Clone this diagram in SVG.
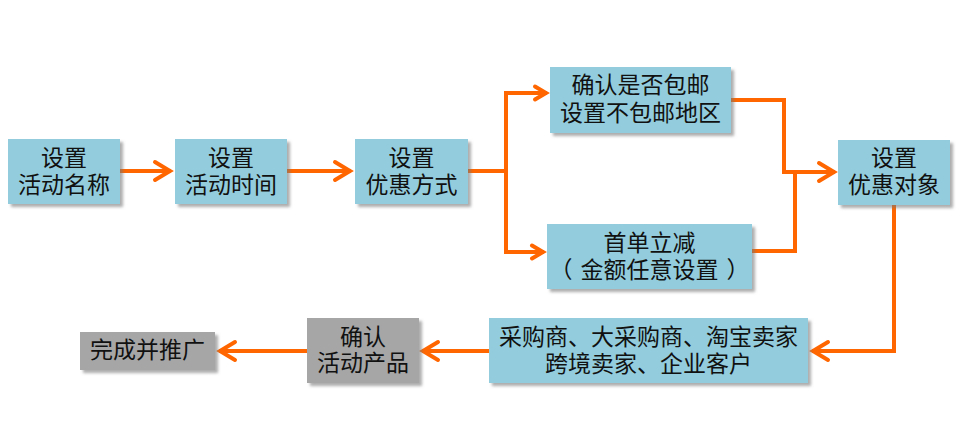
<svg xmlns="http://www.w3.org/2000/svg" width="961" height="440" viewBox="0 0 961 440">
<defs>
<filter id="sh" x="-10%" y="-10%" width="130%" height="140%">
<feDropShadow dx="3" dy="3" stdDeviation="1.5" flood-color="#777" flood-opacity="0.6"/>
</filter>
<marker id="ab" markerUnits="userSpaceOnUse" viewBox="-20 -12 24 24" markerWidth="24" markerHeight="24" refX="0" refY="0" orient="auto">
<path d="M-16,-9 L-1,0 L-16,9" fill="none" stroke="#FF6600" stroke-width="4" stroke-linecap="round" stroke-linejoin="miter"/>
</marker>
<marker id="as" markerUnits="userSpaceOnUse" viewBox="-16 -10 20 20" markerWidth="20" markerHeight="20" refX="0" refY="0" orient="auto">
<path d="M-12,-6.5 L-1,0 L-12,6.5" fill="none" stroke="#FF6600" stroke-width="4" stroke-linecap="round" stroke-linejoin="miter"/>
</marker>
</defs>
<style>
.b{fill:#93CDDD;filter:url(#sh)}
.g{fill:#A6A6A6;filter:url(#sh)}
.t{font-family:"Microsoft YaHei","Noto Sans CJK SC",sans-serif;font-size:23px;fill:#111;text-anchor:middle}
.c{fill:none;stroke:#FF6600;stroke-width:4}
</style>
<rect width="961" height="440" fill="#fff"/>
<g id="connectors">
<path class="c" d="M120,171 H171" marker-end="url(#ab)"/>
<path class="c" d="M287,171 H351" marker-end="url(#ab)"/>
<path class="c" d="M468,171 H506"/>
<path class="c" d="M506,93 V252"/>
<path class="c" d="M504,93 H547" marker-end="url(#as)"/>
<path class="c" d="M504,252 H544" marker-end="url(#as)"/>
<path class="c" d="M731,100 H784 V172 H835" marker-end="url(#ab)"/>
<path class="c" d="M752,251 H795 V172"/>
<path class="c" d="M894,205 V351 H812" marker-end="url(#ab)"/>
<path class="c" d="M489,351 H422" marker-end="url(#ab)"/>
<path class="c" d="M307,351 H219" marker-end="url(#ab)"/>
</g>
<g id="n1"><rect class="b" x="8" y="139" width="112" height="65"/><text class="t" x="64" y="166">设置</text><text class="t" x="64" y="193">活动名称</text></g>
<g id="n2"><rect class="b" x="175" y="139" width="112" height="65"/><text class="t" x="231" y="166">设置</text><text class="t" x="231" y="193">活动时间</text></g>
<g id="n3"><rect class="b" x="355" y="139" width="113" height="65"/><text class="t" x="411.5" y="166">设置</text><text class="t" x="411.5" y="193">优惠方式</text></g>
<g id="n4"><rect class="b" x="550" y="67" width="181" height="66"/><text class="t" x="640.5" y="93">确认是否包邮</text><text class="t" x="640.5" y="121">设置不包邮地区</text></g>
<g id="n5"><rect class="b" x="547" y="224" width="205" height="65"/><text class="t" x="649.5" y="251">首单立减</text><text class="t" x="649.5" y="278"><tspan x="561">（</tspan><tspan x="649.5">金额任意设置</tspan><tspan x="738">）</tspan></text></g>
<g id="n6"><rect class="b" x="838" y="140" width="112" height="65"/><text class="t" x="894" y="166">设置</text><text class="t" x="894" y="193">优惠对象</text></g>
<g id="n7"><rect class="b" x="489" y="318" width="319" height="65"/><text class="t" x="648.5" y="345">采购商、大采购商、淘宝卖家</text><text class="t" x="648.5" y="372">跨境卖家、企业客户</text></g>
<g id="n8"><rect class="g" x="307" y="318" width="112" height="65"/><text class="t" x="363" y="345">确认</text><text class="t" x="363" y="371">活动产品</text></g>
<g id="n9"><rect class="g" x="80" y="332" width="135" height="38"/><text class="t" x="147.5" y="358">完成并推广</text></g>
</svg>
